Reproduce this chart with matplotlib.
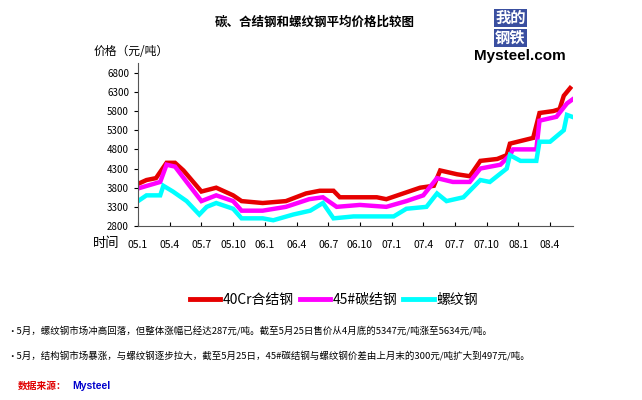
import matplotlib
matplotlib.use("Agg")
import matplotlib.pyplot as plt

plt.rcParams['font.family'] = ['Noto Sans CJK SC', 'DejaVu Sans']

red_m = [0,0.8,1.7,2.7,3.5,4.3,6.0,7.4,9.0,9.8,11.8,14.0,15.9,17.2,18.5,19.1,21.0,22.6,23.5,25.1,26.7,28.0,28.6,30.2,31.4,32.4,34.0,34.9,35.2,37.4,38.0,39.3,39.9,40.3,40.9]
red_v = [3900,4000,4050,4450,4450,4250,3700,3800,3600,3450,3400,3450,3650,3720,3720,3550,3550,3550,3500,3650,3800,3850,4250,4150,4100,4500,4550,4650,4950,5100,5750,5800,5850,6200,6400]
mag_m = [0,2.1,2.7,3.5,4.6,6.0,7.4,9.0,9.8,11.8,14.0,16.2,17.5,18.8,21.0,23.5,25.4,27.0,28.3,29.8,31.4,32.4,34.3,35.2,35.5,37.7,38.0,39.6,40.6,41.1]
mag_v = [3780,3950,4400,4350,3950,3450,3600,3450,3200,3200,3300,3500,3550,3300,3350,3300,3450,3600,4050,3950,3950,4300,4400,4650,4800,4800,5550,5650,6000,6100]
cyan_m = [0,0.8,2.1,2.4,3.3,4.6,5.8,6.5,7.4,9.0,9.8,11.8,12.8,14.7,16.3,17.5,18.5,20.4,22.6,24.2,25.4,27.3,28.3,29.2,30.8,32.4,33.3,34.9,35.2,36.2,37.7,38.0,39.0,40.3,40.6,41.1]
cyan_v = [3450,3600,3600,3850,3700,3450,3100,3300,3400,3250,3000,3000,2950,3100,3200,3400,3000,3050,3050,3050,3250,3300,3650,3450,3550,4000,3950,4300,4650,4500,4500,5000,5000,5300,5700,5650]
xlabels = ['05.1','05.4','05.7','05.10','06.1','06.4','06.7','06.10','07.1','07.4','07.7','07.10','08.1','08.4']
yticks = list(range(2800, 6801, 500))
names = ['40Cr合结钢', '45#碳结钢', '螺纹钢']
colors = ['#e60000', '#ff00ff', '#00ffff']

fig = plt.figure(figsize=(6.42, 4.0), dpi=100)
ax = fig.add_axes([0.215, 0.435, 0.678, 0.407])
for m, v, c in zip([red_m, mag_m, cyan_m], [red_v, mag_v, cyan_v], colors):
    ax.plot(m, v, color=c, lw=3.2, solid_joinstyle='miter')
ax.set_xlim(0, 41.2)
ax.set_ylim(2800, 7050)
ax.set_yticks(yticks)
ax.set_yticklabels([str(t) for t in yticks], fontsize=7)
ax.set_xticks(range(0, 40, 3))
ax.set_xticklabels(xlabels, fontsize=7.5)
ax.tick_params(axis='x', length=3, direction='in', pad=10)
ax.tick_params(axis='y', length=3, direction='out')
for s in ['top', 'right']:
    ax.spines[s].set_visible(False)
ax.spines['left'].set_color('#555555')
ax.spines['bottom'].set_color('#555555')

fig.text(0.49, 0.945, '碳、合结钢和螺纹钢平均价格比较图', ha='center', va='center', fontsize=9, fontweight='bold')
fig.text(0.145, 0.872, '价格（元/吨）', fontsize=8.5, va='center')
fig.text(0.145, 0.39, '时间', fontsize=9.5, va='center')
fig.text(0.795, 0.955, '我的', fontsize=11, color='white', fontweight='bold', ha='center', va='center',
         bbox=dict(facecolor='#3a4fa0', edgecolor='none', pad=1))
fig.text(0.795, 0.905, '钢铁', fontsize=11, color='white', fontweight='bold', ha='center', va='center',
         bbox=dict(facecolor='#3a4fa0', edgecolor='none', pad=1))
fig.text(0.81, 0.86, 'Mysteel.com', fontsize=11, fontweight='bold', ha='center', va='center', family='Liberation Sans')

handles = [plt.Line2D([], [], color=c, lw=3.5) for c in colors]
fig.legend(handles, names, loc='center', bbox_to_anchor=(0.52, 0.25), ncol=3, frameon=False,
           fontsize=10, handlelength=2.2, handletextpad=0.2, columnspacing=0.4)
fig.text(0.012, 0.17, '•5月，螺纹钢市场冲高回落，但整体涨幅已经达287元/吨。截至5月25日售价从4月底的5347元/吨涨至5634元/吨。', fontsize=6.8, va='center')
fig.text(0.012, 0.11, '•5月，结构钢市场暴涨，与螺纹钢逐步拉大，截至5月25日，45#碳结钢与螺纹钢价差由上月末的300元/吨扩大到497元/吨。', fontsize=6.8, va='center')
fig.text(0.028, 0.035, '数据来源：', fontsize=7, color='#e00000', fontweight='bold', va='center')
fig.text(0.112, 0.035, 'Mysteel', fontsize=7.5, color='#0000cc', fontweight='bold', va='center', family='Liberation Sans')
fig.savefig('out.png', dpi=100)
